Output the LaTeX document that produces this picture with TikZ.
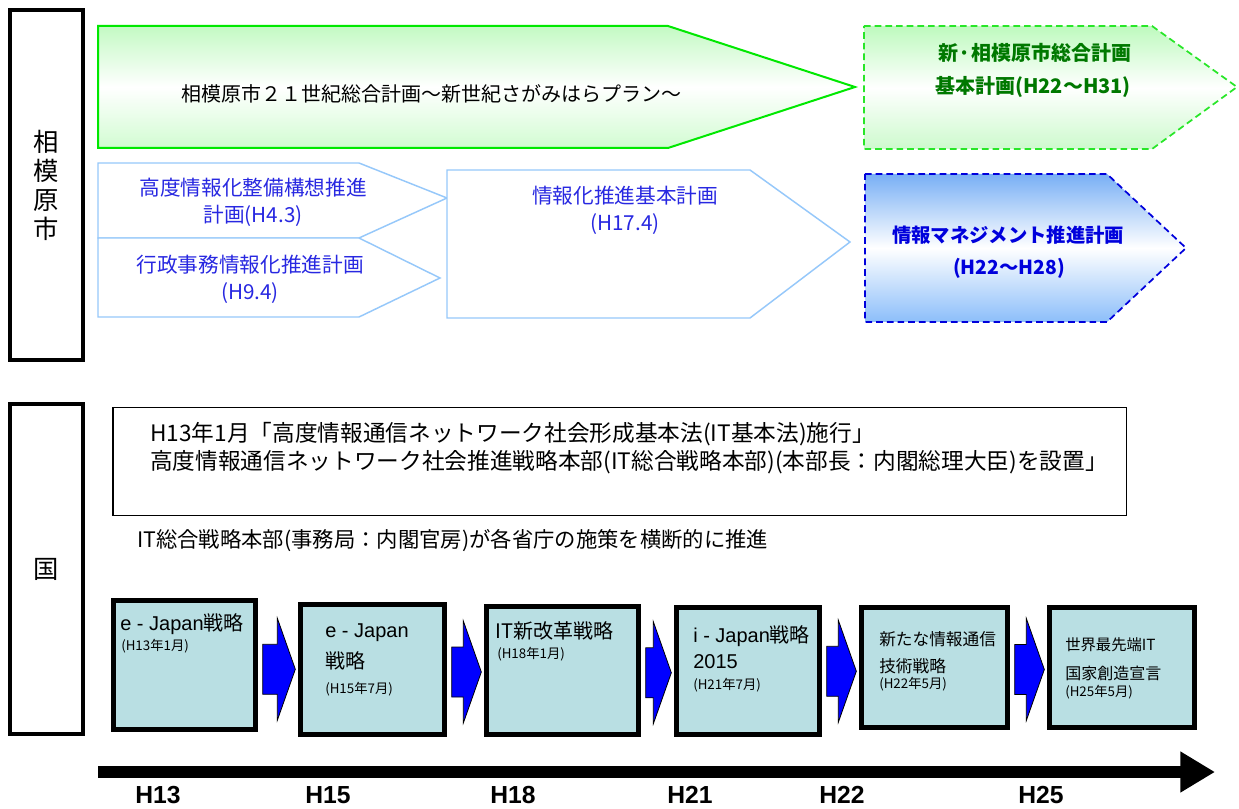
\documentclass[tikz,border=0pt]{standalone}
\usepackage{fontspec}
\setmainfont{Liberation Sans}
\newfontfamily\jp{Noto Sans CJK JP}
\usetikzlibrary{calc, arrows.meta}
\definecolor{cyanbox}{RGB}{185,223,227}
\definecolor{planblue}{RGB}{150,200,250}
\definecolor{plantext}{RGB}{40,40,225}
\definecolor{newgreen}{RGB}{0,120,0}
\definecolor{lime}{RGB}{0,232,0}
\definecolor{dashgreen}{RGB}{40,230,40}
\definecolor{dashblue}{RGB}{0,0,220}
\tikzset{
  sidebox/.style={draw, line width=3pt, inner sep=0pt, align=center, font=\jp\fontsize{19}{21.75}\selectfont},
  planarrow/.style={draw=planblue, line width=1.1pt, fill=white},
  plantxt/.style={text=plantext, align=center, font=\jp\fontsize{15.5}{20}\selectfont},
  newtxt/.style={font=\jp\bfseries\fontsize{15}{18}\selectfont},
  tlbox/.style={draw, line width=3.75pt, fill=cyanbox, inner sep=0pt},
  tltxt/.style={anchor=west, inner sep=0pt, font=\fontsize{15}{18}\selectfont},
  tlsmall/.style={anchor=west, inner sep=0pt, font=\jp\fontsize{10}{12}\selectfont},
  lawtxt/.style={anchor=west, inner sep=0pt, font=\jp\fontsize{17}{20}\selectfont},
  blockarrow/.style={draw, line width=0.6pt, fill=blue},
  year/.style={font=\bfseries\fontsize{18.5}{22}\selectfont}
}

\begin{document}
\begin{tikzpicture}[x=0.75pt, y=-0.75pt]
\useasboundingbox (0,0) rectangle (1239,809);
% side captions
\node[sidebox, minimum width=54.75pt, minimum height=262.5pt] (city) at (46.5,185) {相\\模\\原\\市};
\node[sidebox, minimum width=54.75pt, minimum height=247.5pt] (nation) at (46.5,569) {国};
% city plans
\draw[draw=lime, line width=1.5pt, top color={rgb,255:red,195;green,250;blue,195}, bottom color={rgb,255:red,210;green,252;blue,210}, middle color=white]
  (98,26) -- (668,26) -- (855,87) -- (668,148) -- (98,148) -- cycle;
\node[font=\jp\fontsize{15}{18}\selectfont] (plan21) at (431,94) {相模原市２１世紀総合計画～新世紀さがみはらプラン～};
\draw[draw=dashgreen, line width=1.3pt, dash pattern=on 5pt off 3pt, top color={rgb,255:red,190;green,250;blue,190}, bottom color={rgb,255:red,205;green,250;blue,205}, middle color=white]
  (864,26) -- (1152,26) -- (1237,87) -- (1152,149) -- (864,149) -- cycle;
\node[newtxt, text=newgreen] (newplan) at (1035,53) {新·相模原市総合計画};
\node[newtxt, text=newgreen] (newplan2) at (1033,87) {基本計画(H22～H31)};
\draw[draw=dashblue, line width=1.3pt, dash pattern=on 5pt off 3pt, top color={rgb,255:red,120;green,175;blue,245}, bottom color={rgb,255:red,140;green,190;blue,250}, middle color=white]
  (865,174) -- (1107,174) -- (1186,248) -- (1107,322) -- (865,322) -- cycle;
\node[newtxt, text=dashblue, font=\jp\bfseries\fontsize{14.5}{18}\selectfont] (infomgmt) at (1008,235) {情報マネジメント推進計画};
\node[newtxt, text=dashblue, font=\jp\bfseries\fontsize{14.5}{18}\selectfont] (infomgmt2) at (1009,268) {(H22～H28)};
\draw[planarrow] (98,163) -- (359,163) -- (447,198) -- (359,238) -- (98,238) -- cycle;
\draw[planarrow] (98,238) -- (359,238) -- (440,278) -- (359,317) -- (98,317) -- cycle;
\draw[planarrow] (447,170) -- (750,170) -- (850,242) -- (750,318) -- (447,318) -- cycle;
\node[plantxt] (infra) at (253,202) {高度情報化整備構想推進\\計画(H4.3)};
\node[plantxt] (admin) at (250,279) {行政事務情報化推進計画\\(H9.4)};
\node[plantxt] (basic) at (625,210) {情報化推進基本計画\\(H17.4)};
% national policy
\node[draw, line width=1pt, minimum width=760pt, minimum height=80.8pt] (law) at (619.5,461.5) {};
\node[lawtxt] (law1) at (150,434) {H13年1月「高度情報通信ネットワーク社会形成基本法(IT基本法)施行」};
\node[lawtxt] (law2) at (150,462) {高度情報通信ネットワーク社会推進戦略本部(IT総合戦略本部)(本部長：内閣総理大臣)を設置」};
\node[lawtxt, font=\jp\fontsize{16}{20}\selectfont] (hq) at (137,541) {IT総合戦略本部(事務局：内閣官房)が各省庁の施策を横断的に推進};
% strategies
\node[tlbox, minimum width=106.5pt, minimum height=96.75pt] (ejapan) at (184.5,665) {};
\node[tlbox, minimum width=108pt, minimum height=97.5pt] (ejapan2) at (372.5,669.5) {};
\node[tlbox, minimum width=114pt, minimum height=96pt] (itnew) at (562.5,670.5) {};
\node[tlbox, minimum width=107.25pt, minimum height=95.25pt] (ijapan) at (748,671) {};
\node[tlbox, minimum width=109.5pt, minimum height=90pt] (newict) at (934.5,667.5) {};
\node[tlbox, minimum width=108.75pt, minimum height=90pt] (itnation) at (1122,667.5) {};
\node[tltxt] (ejapant) at (120,624) {e - Japan{\jp 戦略}};
\node[tlsmall] (ejapand) at (121,646) {(H13年1月)};
\node[tltxt] (ejapan2t) at (325,633) {e - Japan};
\node[tltxt, font=\jp\fontsize{15}{18}\selectfont] (ejapan2u) at (325,661) {戦略};
\node[tlsmall] (ejapan2d) at (325,689) {(H15年7月)};
\node[tltxt, font=\jp\fontsize{15}{18}\selectfont] (itnewt) at (495,631) {IT新改革戦略};
\node[tlsmall] (itnewd) at (497,654) {(H18年1月)};
\node[tltxt] (ijapant) at (693,636) {i - Japan{\jp 戦略}};
\node[tltxt] (ijapanu) at (693,662) {2015};
\node[tlsmall] (ijapand) at (693,685) {(H21年7月)};
\node[tltxt, font=\jp\fontsize{12.5}{15}\selectfont] (newictt) at (879,639) {新たな情報通信};
\node[tltxt, font=\jp\fontsize{12.5}{15}\selectfont] (newictu) at (879,666) {技術戦略};
\node[tlsmall] (newictd) at (879,684) {(H22年5月)};
\node[tltxt, font=\jp\fontsize{11.5}{15}\selectfont] (itnationt) at (1065,645) {世界最先端IT};
\node[tltxt, font=\jp\fontsize{12}{15}\selectfont] (itnationu) at (1065,673) {国家創造宣言};
\node[tlsmall] (itnationd) at (1065,692) {(H25年5月)};
\foreach \a/\b in {ejapan/ejapan2, ejapan2/itnew, itnew/ijapan, ijapan/newict, newict/itnation}
  \draw[blockarrow] let \p1=(\a.east), \p2=(\b.west), \p3=($(\a.east)!0.5!(\b.west)$) in
    (\x1+3.5pt,\y3+17.25pt) -- (\x2-15.5pt,\y3+17.25pt) -- (\x2-15.5pt,\y3+36.75pt) -- (\x2-2pt,\y3-1.5pt)
    -- (\x2-15.5pt,\y3-39.75pt) -- (\x2-15.5pt,\y3-20.25pt) -- (\x1+3.5pt,\y3-20.25pt) -- cycle;
% time axis
\coordinate (tstart) at (98,772);
\coordinate (tend) at (1215,772);
\draw[line width=9pt, -{Triangle[length=26pt, width=29pt]}] (tstart) -- (tend);
\foreach \yr/\px in {13/158, 15/328, 18/513, 21/690, 22/842, 25/1041}
  \node[year] (h\yr) at (\px,795) {H\yr};
\end{tikzpicture}
\end{document}
